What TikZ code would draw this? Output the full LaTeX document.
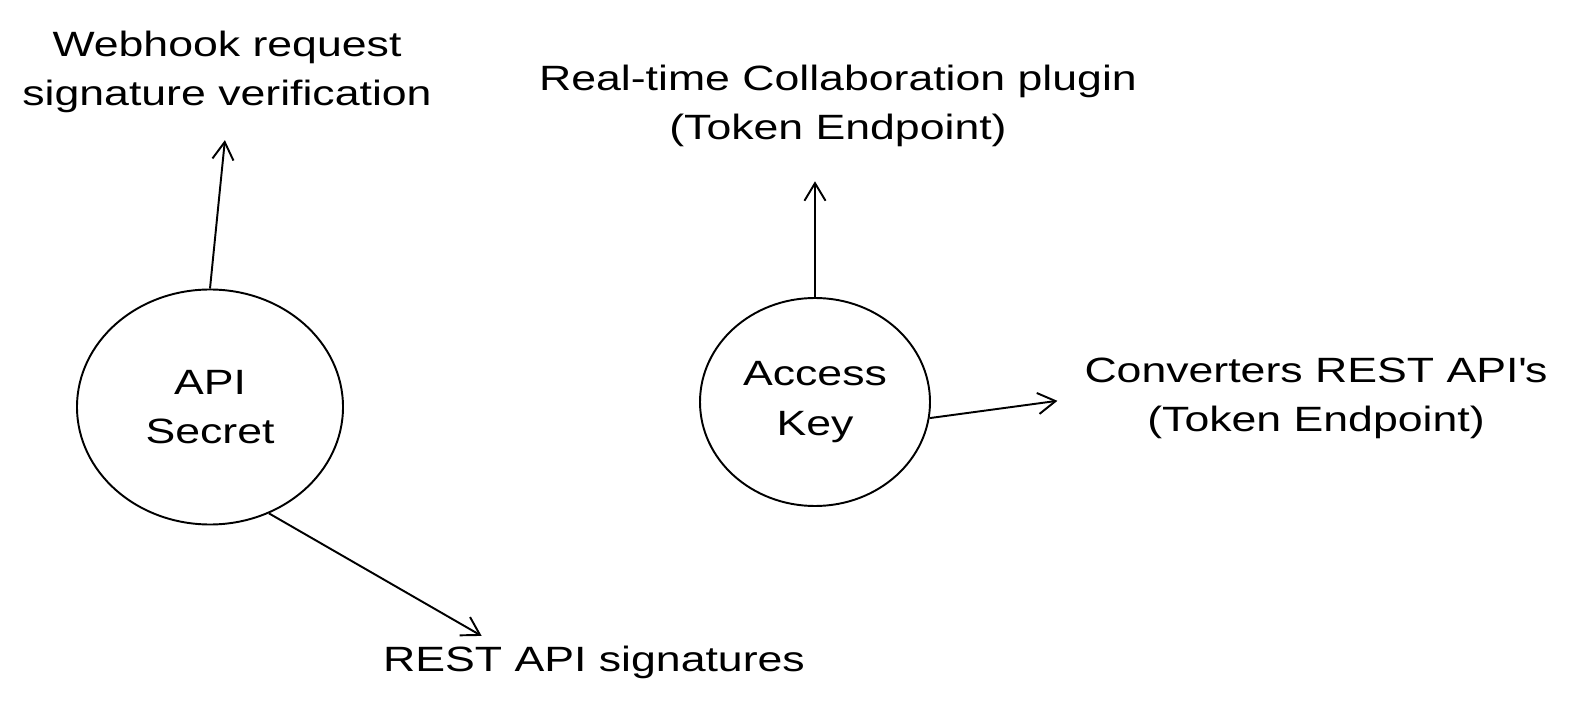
\documentclass[tikz,border=0pt]{standalone}
\usepackage{fontspec}
\setmainfont[FakeStretch=1.27]{Liberation Sans}
\usetikzlibrary{positioning,shapes.geometric,arrows.meta}

\begin{document}
\begin{tikzpicture}[
  x=0.02cm, y=-0.02cm,
  keycircle/.style={ellipse, draw, line width=1.1pt, align=center, font=\fontsize{20}{28}\selectfont},
  label/.style={align=center, font=\fontsize{20}{28}\selectfont},
  relation/.style={-{Straight Barb[length=10pt,width=12pt]}, line width=1.1pt}
]
\useasboundingbox (0,0) rectangle (1574,712);

% Claves
\node[keycircle, minimum width=266*0.02cm, minimum height=235*0.02cm] (secret) at (210,407) {API\\Secret};
\node[keycircle, minimum width=230*0.02cm, minimum height=208*0.02cm] (access) at (815,402) {Access\\Key};

% Usos
\node[label] (webhook) at (227,72) {Webhook request\\signature verification};
\node[label] (realtime) at (838,106) {Real-time Collaboration plugin\\(Token Endpoint)};
\node[label] (converters) at (1316,398) {Converters REST API\textquotesingle s\\(Token Endpoint)};
\node[label] (signatures) at (594,662) {REST API signatures};

% Relaciones
\draw[relation, shorten >=12pt] (secret.north) -- (webhook.south);
\draw[relation, shorten >=4pt] (secret.-61) -- (signatures.168);
\draw[relation, shorten >=16pt] (access.north) -- (access.north |- realtime.south);
\draw[relation, shorten >=12pt] (access.-8) -- (converters.west);

\end{tikzpicture}
\end{document}
